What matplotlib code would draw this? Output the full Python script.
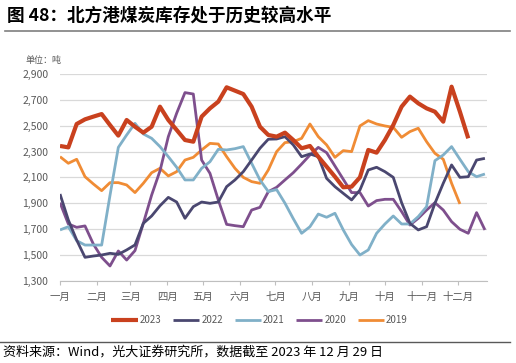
import matplotlib
matplotlib.use("Agg")
import matplotlib.pyplot as plt
from matplotlib.ticker import FuncFormatter

plt.rcParams['font.family'] = ['Noto Sans CJK SC', 'DejaVu Sans']

# weekly readings (tons), one list per year
y2023 = [2343, 2332, 2513, 2549, 2570, 2590, 2505, 2423, 2544, 2492,
         2446, 2492, 2647, 2544, 2467, 2389, 2376, 2570, 2634, 2686,
         2797, 2771, 2745, 2647, 2492, 2428, 2415, 2446, 2389, 2325,
         2343, 2260, 2183, 2105, 2023, 2028, 2100, 2312, 2291, 2389,
         2505, 2647, 2725, 2673, 2634, 2608, 2531, 2802, 2608, 2402]
y2022 = [1971, 1770, 1615, 1481, 1491, 1499, 1512, 1504, 1538, 1577,
         1744, 1801, 1880, 1945, 1909, 1783, 1873, 1909, 1899, 1909,
         2028, 2080, 2144, 2234, 2325, 2395, 2397, 2415, 2351, 2260,
         2281, 2260, 2092, 2028, 1976, 1925, 2002, 2157, 2178, 2144,
         2100, 1904, 1744, 1693, 1718, 1899, 2054, 2196, 2100, 2105,
         2234, 2247]
y2021 = [1693, 1718, 1610, 1576, 1576, 1576, 1960, 2332, 2428, 2518,
         2436, 2402, 2338, 2260, 2178, 2080, 2080, 2170, 2221, 2317,
         2312, 2322, 2338, 2209, 2080, 1990, 2005, 1900, 1780, 1667,
         1718, 1816, 1791, 1822, 1693, 1580, 1499, 1538, 1667, 1739,
         1801, 1739, 1739, 1796, 1873, 2229, 2273, 2338, 2240, 2144,
         2105, 2126]
y2020 = [1904, 1739, 1713, 1724, 1584, 1481, 1414, 1530, 1460, 1533,
         1744, 1963, 2150, 2415, 2596, 2756, 2745, 2234, 2131, 1925,
         1736, 1726, 1718, 1847, 1868, 1989, 2023, 2080, 2136, 2203,
         2273, 2332, 2291, 2188, 2085, 1982, 1982, 1878, 1920, 1930,
         1930, 1835, 1731, 1783, 1847, 1904, 1847, 1757, 1698, 1667,
         1827, 1693]
y2019 = [2260, 2209, 2240, 2105, 2049, 1997, 2059, 2059, 2041, 1982,
         2054, 2136, 2170, 2111, 2144, 2234, 2255, 2312, 2363, 2358,
         2260, 2170, 2100, 2067, 2054, 2157, 2299, 2369, 2376, 2402,
         2513, 2415, 2351, 2255, 2307, 2299, 2498, 2539, 2513, 2498,
         2487, 2410, 2454, 2480, 2376, 2286, 2240, 2054, 1894]

months = ['一月', '二月', '三月', '四月', '五月', '六月',
          '七月', '八月', '九月', '十月', '十一月', '十二月']
month_start = [0, 31, 59, 90, 120, 151, 181, 212, 243, 273, 304, 334]

series = [
    ('2023', y2023, '#C9411E', 3.0),
    ('2022', y2022, '#4A4770', 2.0),
    ('2021', y2021, '#80B0C8', 2.0),
    ('2020', y2020, '#7E4F8D', 2.0),
    ('2019', y2019, '#F08C35', 2.0),
]

fig = plt.figure(figsize=(5.16, 3.63), dpi=100)
ax = fig.add_axes([60 / 516, 1 - 280.7 / 363, 426.7 / 516, 206.7 / 363])

handles = []
for k, (name, vals, color, lw) in enumerate(series):
    days = [7 * i for i in range(len(vals))]
    h, = ax.plot(days, vals, color=color, lw=lw, label=name,
                 zorder=10 - k, solid_capstyle='butt')
    handles.append(h)

ax.set_xlim(0, 358.5)
ax.set_ylim(1300, 2900)
ax.set_yticks(range(1300, 2901, 200))
ax.yaxis.set_major_formatter(FuncFormatter(lambda v, p: f'{int(v):,}'))
ax.set_xticks(month_start)
ax.set_xticklabels(months)

ax.grid(axis='y', color='#D9D9D9', lw=0.9)
ax.set_axisbelow(True)
for s in ['top', 'right', 'left']:
    ax.spines[s].set_visible(False)
ax.spines['bottom'].set_color('#BFBFBF')
ax.tick_params(axis='y', length=0, labelsize=7.5, labelcolor='#595959', pad=8.5)
ax.tick_params(axis='x', length=3, color='#BFBFBF', labelsize=7.5,
               labelcolor='#595959', pad=5)

fig.legend(handles=handles, loc='center', bbox_to_anchor=(0.503, 1 - 320 / 363),
           ncol=5, frameon=False, fontsize=7, handlelength=2.7,
           handletextpad=0.2, columnspacing=1.2, labelcolor='#595959')

# title, unit, rules and source
fig.text(7 / 516, 1 - 16 / 363, '图 48：北方港煤炭库存处于历史较高水平',
         fontsize=12.7, fontweight='bold', va='center', ha='left')
fig.add_artist(plt.Line2D([5 / 516, 510 / 516], [1 - 31 / 363] * 2,
                          color='#7F7F7F', lw=1.2))
fig.text(25 / 516, 1 - 61 / 363, '单位：吨', fontsize=6.5, color='#595959',
         va='center', ha='left')
fig.add_artist(plt.Line2D([0, 510 / 516], [1 - 341.5 / 363] * 2,
                          color='#595959', lw=1.0))
fig.text(3 / 516, 1 - 352 / 363, '资料来源：Wind，光大证券研究所，数据截至 2023 年 12 月 29 日',
         fontsize=9.4, va='center', ha='left')

fig.savefig('out.png', dpi=100)
